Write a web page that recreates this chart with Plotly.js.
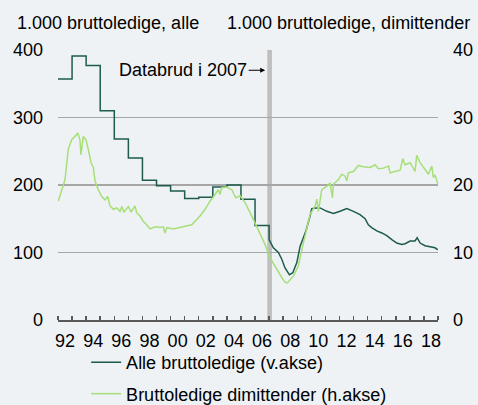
<!DOCTYPE html>
<html>
<head>
<meta charset="utf-8">
<script src="https://cdn.plot.ly/plotly-3.0.1.min.js"></script>
<style>
html,body{margin:0;padding:0;background:#eef2f5;}
#chart{width:478px;height:405px;}
</style>
</head>
<body>
<div id="chart"></div>
<script>
// Alle bruttoledige (1.000), annual values 1992-2006 (step)
const annualYears = [1992,1993,1994,1995,1996,1997,1998,1999,2000,2001,2002,2003,2004,2005,2006];
const annualAlle  = [357,391,377,310,268,240,207,199,191,180,182,197,200,179,140];

// Alle bruttoledige (1.000), monthly from 2007
const monthlyYears = [2007.0,2007.30,2007.66,2007.90,2008.13,2008.44,2008.68,2008.97,2009.20,2009.43,2009.63,2009.91,2010.03,2010.34,2010.62,2011.10,2011.45,2011.57,2012.04,2012.52,2012.99,2013.46,2013.82,2014.05,2014.29,2014.65,2015.01,2015.36,2015.72,2016.07,2016.43,2016.66,2017.02,2017.37,2017.52,2017.73,2018.08,2018.44,2018.79,2018.99];
const monthlyAlle  = [119,107,100,90,77,67,70,85,109,122,133,154,165,166,166,161,159,158,161,165,161,156,150,141,137,132,129,125,119,114,112,113,117,117,122,114,110,108,107,104];

// Bruttoledige dimittender (1.000)
const dimYears = [1992.02,1992.26,1992.50,1992.73,1992.97,1993.21,1993.40,1993.56,1993.63,1993.80,1993.99,1994.15,1994.35,1994.51,1994.63,1994.86,1995.11,1995.34,1995.53,1995.70,1995.93,1996.17,1996.41,1996.53,1996.69,1997.00,1997.19,1997.47,1997.59,1997.83,1998.06,1998.30,1998.54,1998.77,1999.01,1999.25,1999.48,1999.60,1999.73,2000.19,2000.67,2001.15,2001.50,2001.86,2002.09,2002.45,2002.80,2003.16,2003.39,2003.51,2003.63,2003.99,2004.35,2004.58,2004.65,2004.94,2005.29,2005.65,2006.00,2006.36,2006.71,2007.07,2007.54,2007.90,2008.13,2008.30,2008.72,2009.08,2009.32,2009.56,2009.91,2010.27,2010.39,2010.50,2010.74,2011.10,2011.33,2011.50,2011.57,2011.92,2012.16,2012.40,2012.52,2012.63,2012.99,2013.34,2013.70,2014.17,2014.53,2014.76,2015.12,2015.48,2015.60,2015.95,2016.31,2016.50,2016.66,2017.02,2017.25,2017.37,2017.49,2017.73,2018.08,2018.32,2018.56,2018.67,2018.79,2018.99];
const dimValues = [17.6,19.1,20.8,25.3,26.7,27.2,27.7,26.7,24.5,27.2,26.7,25.3,23.3,22.6,20.6,19.3,18.3,17.8,18.3,16.9,16.4,16.6,16.1,16.8,16.0,16.8,16.0,16.9,15.9,15.4,14.6,14.1,13.5,13.7,13.8,13.7,13.8,12.9,13.7,13.5,13.7,13.9,14.1,14.9,15.4,16.4,17.6,18.6,19.3,18.6,19.6,19.7,19.3,18.3,18.1,18.4,17.4,15.9,14.4,12.7,11.2,9.2,7.5,6.3,5.6,5.5,6.5,8.0,10.4,12.4,15.6,16.9,17.9,16.1,19.3,19.8,20.3,18.1,20.1,20.8,21.6,21.3,20.6,21.8,22.0,22.9,22.7,22.6,23.0,22.4,22.5,22.8,21.8,22.0,22.2,23.9,23.0,23.3,22.5,22.0,24.4,23.3,22.3,21.6,22.8,21.1,21.5,20.1];

const tickYears = [1992,1994,1996,1998,2000,2002,2004,2006,2008,2010,2012,2014,2016,2018];
const tickLabels = ['92','94','96','98','00','02','04','06','08','10','12','14','16','18'];

const darkColor = '#1d5c4c';
const lightColor = '#a6df78';
const fontFam = '"Liberation Sans", Arial, Helvetica, sans-serif';

const traces = [
  {
    x: annualYears.concat([monthlyYears[0]]),
    y: annualAlle.concat([monthlyAlle[0]]),
    mode: 'lines', line: {color: darkColor, width: 1.5, shape: 'hv'},
    name: 'Alle bruttoledige (v.akse)', legendgroup: 'a', yaxis: 'y'
  },
  {
    x: monthlyYears, y: monthlyAlle,
    mode: 'lines', line: {color: darkColor, width: 1.5},
    name: 'Alle bruttoledige (v.akse)', legendgroup: 'a', showlegend: false, yaxis: 'y'
  },
  {
    x: dimYears, y: dimValues,
    mode: 'lines', line: {color: lightColor, width: 1.5},
    name: 'Bruttoledige dimittender (h.akse)', legendgroup: 'b', yaxis: 'y2'
  }
];

const layout = {
  width: 478, height: 405,
  paper_bgcolor: '#eef2f5', plot_bgcolor: '#eef2f5',
  font: {family: fontFam, size: 18, color: '#000'},
  margin: {l: 58, r: 40, t: 50, b: 85, autoexpand: false},
  showlegend: true,
  legend: {
    x: 0.074, xanchor: 'left', y: -0.089, yanchor: 'top',
    bgcolor: 'rgba(0,0,0,0)', font: {size: 18}, tracegroupgap: 5
  },
  xaxis: {
    range: [1992, 2019], tickmode: 'array',
    tickvals: tickYears.map(v => v + 0.5), ticktext: tickLabels,
    ticks: '', showgrid: false, zeroline: false,
    showline: true, linecolor: '#595959', linewidth: 1.5,
    ticklabelstandoff: 4,
    minor: {tickmode: 'linear', tick0: 1992, dtick: 1, ticks: 'inside', ticklen: 4, tickcolor: '#595959', tickwidth: 1.5, showgrid: false}
  },
  yaxis: {
    range: [0, 400], dtick: 100, tick0: 0,
    showgrid: true, gridcolor: '#a6a6a6', gridwidth: 1.5,
    zeroline: false, showline: false, ticks: '', ticklabelstandoff: 14
  },
  yaxis2: {
    range: [0, 40], dtick: 10, tick0: 0, overlaying: 'y', side: 'right',
    showgrid: false, zeroline: false, showline: false, ticks: '', ticklabelstandoff: 14
  },
  shapes: [
    {type: 'rect', xref: 'x', yref: 'paper', x0: 2006.87, x1: 2007.2, y0: 0, y1: 1,
     fillcolor: '#bfbfbf', line: {width: 0}, layer: 'below'}
  ],
  annotations: [
    {xref: 'paper', yref: 'paper', x: -0.113, y: 1.1, xanchor: 'left', yanchor: 'middle',
     text: '1.000 bruttoledige, alle', showarrow: false, font: {size: 18}},
    {xref: 'paper', yref: 'paper', x: 1.09, y: 1.1, xanchor: 'right', yanchor: 'middle',
     text: '1.000 bruttoledige, dimittender', showarrow: false, font: {size: 18}},
    {xref: 'x', yref: 'y', x: 2006.72, y: 370, text: 'Databrud i 2007',
     showarrow: true, ax: -82, ay: 0, arrowhead: 2, arrowsize: 1, arrowwidth: 1, arrowcolor: '#000',
     font: {size: 18}}
  ]
};

Plotly.newPlot('chart', traces, layout, {displayModeBar: false, staticPlot: true});
</script>
</body>
</html>
